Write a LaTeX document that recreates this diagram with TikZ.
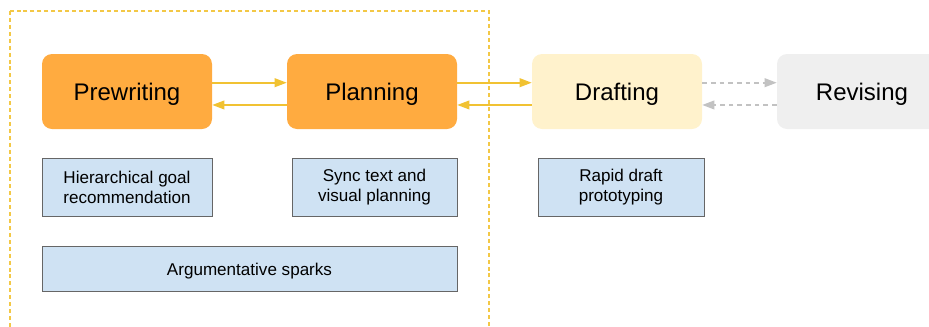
\documentclass[tikz,border=0pt]{standalone}
\usepackage{fontspec}
\setmainfont{Liberation Sans}
\usetikzlibrary{arrows.meta}

\definecolor{stageorange}{HTML}{FFAB40}
\definecolor{draftyellow}{HTML}{FFF2CC}
\definecolor{revisegray}{HTML}{EFEFEF}
\definecolor{featureblue}{HTML}{CFE2F3}
\definecolor{featureedge}{HTML}{666666}
\definecolor{flowyellow}{HTML}{F1C232}
\definecolor{flowgray}{HTML}{B7B7B7}

\begin{document}
\begin{tikzpicture}[x=0.75pt, y=-0.75pt]
    \clip (0,0) rectangle (929,326);

    % group of the early stages
    \draw [flowyellow!90, line width=0.8pt, dash pattern=on 3pt off 2.2pt] (10,11) rectangle (489,345);

    \begin{scope}[every node/.style={rounded corners=7.5pt, inner sep=0pt, minimum width=127.5pt, minimum height=56.25pt, text height=14.2pt, text depth=0pt, font=\fontsize{18}{22}\selectfont}]
        \node [fill=stageorange] (pre) at (127,91.5) {Prewriting};
        \node [fill=stageorange] (plan) at (372,91.5) {Planning};
        \node [fill=draftyellow] (draft) at (617,91.5) {Drafting};
        \node [fill=revisegray] (rev) at (862,91.5) {Revising};
    \end{scope}

    \begin{scope}[every node/.style={fill=featureblue, draw=featureedge, line width=0.75pt, inner sep=0pt, minimum height=43.5pt, align=center, font=\fontsize{12.8}{15}\selectfont}]
        \node [minimum width=127.5pt] (goal) at (127,187) {Hierarchical goal\\recommendation};
        \node [minimum width=123.75pt] (sync) at (374.5,187) {Sync text and\\visual planning};
        \node [minimum width=124.5pt] (proto) at (621,187) {Rapid draft\\prototyping};
        \node [minimum width=311.25pt, minimum height=33.75pt, text height=10.6pt, text depth=0pt] (spark) at (249.5,268.5) {Argumentative sparks};
    \end{scope}

    \begin{scope}[every edge/.style={draw, line width=1.2pt, -{Triangle[length=9pt, width=6.5pt]}}]
        \path [flowyellow] ([yshift=6.6pt]pre.east) edge ([yshift=6.6pt]plan.west);
        \path [flowyellow] ([yshift=-10.1pt]plan.west) edge ([yshift=-10.1pt]pre.east);
        \path [flowyellow] ([yshift=6.6pt]plan.east) edge ([yshift=6.6pt]draft.west);
        \path [flowyellow] ([yshift=-10.1pt]draft.west) edge ([yshift=-10.1pt]plan.east);
        \path [flowgray!85, dash pattern=on 3.5pt off 3pt] ([yshift=6.6pt]draft.east) edge ([yshift=6.6pt]rev.west);
        \path [flowgray!85, dash pattern=on 3.5pt off 3pt] ([yshift=-10.1pt]rev.west) edge ([yshift=-10.1pt]draft.east);
    \end{scope}
\end{tikzpicture}
\end{document}
